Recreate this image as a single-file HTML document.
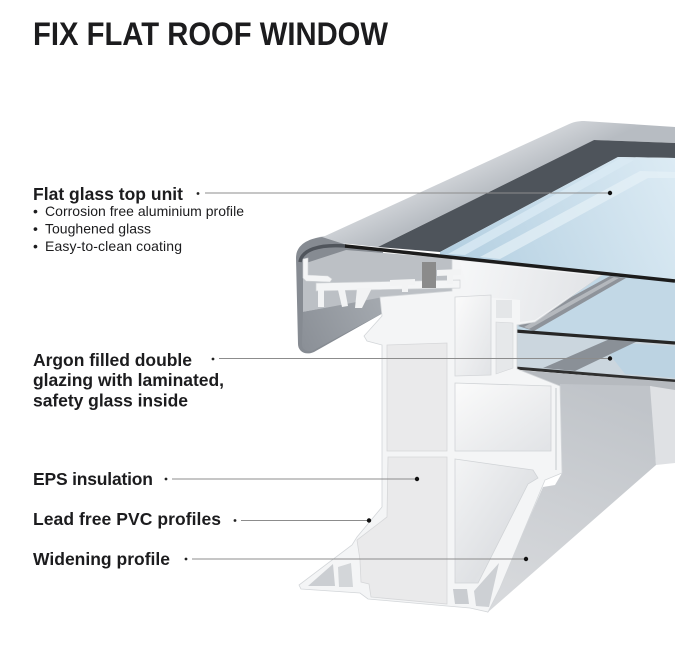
<!DOCTYPE html>
<html><head><meta charset="utf-8"><style>
html,body{margin:0;padding:0;background:#fff;}
svg{display:block;}
text{font-family:"Liberation Sans",Arial,sans-serif;fill:#1c1c1e;}
</style></head><body>
<svg width="675" height="650" viewBox="0 0 675 650" xmlns="http://www.w3.org/2000/svg">
<defs>
<linearGradient id="gCap" gradientUnits="userSpaceOnUse" x1="440" y1="172" x2="456" y2="208">
<stop offset="0" stop-color="#d6d9dd"/><stop offset="1" stop-color="#b7bcc2"/></linearGradient>
<linearGradient id="gGlass" gradientUnits="userSpaceOnUse" x1="440" y1="265" x2="675" y2="160">
<stop offset="0" stop-color="#b2cee0"/><stop offset="1" stop-color="#dcebf4"/></linearGradient>
<linearGradient id="gCh" x1="0" y1="0" x2="1" y2="1">
<stop offset="0" stop-color="#fbfbfb"/><stop offset="1" stop-color="#e1e3e6"/></linearGradient>
<linearGradient id="gCh4" x1="0" y1="0" x2="1" y2="1">
<stop offset="0" stop-color="#f3f4f5"/><stop offset="0.6" stop-color="#dfe1e4"/><stop offset="1" stop-color="#eceef0"/></linearGradient>
<linearGradient id="gFace" gradientUnits="userSpaceOnUse" x1="600" y1="390" x2="520" y2="600">
<stop offset="0" stop-color="#c0c4c9"/><stop offset="1" stop-color="#d7d9dc"/></linearGradient>
<linearGradient id="gSkirt" gradientUnits="userSpaceOnUse" x1="300" y1="340" x2="380" y2="300">
<stop offset="0" stop-color="#8b9097"/><stop offset="1" stop-color="#a4a9af"/></linearGradient>
<linearGradient id="gWedge" gradientUnits="userSpaceOnUse" x1="460" y1="265" x2="590" y2="300">
<stop offset="0" stop-color="#f6f7f8"/><stop offset="1" stop-color="#e2e4e7"/></linearGradient>
</defs>

<!-- Title -->
<text x="33" y="45" font-size="32" font-weight="bold" textLength="355" lengthAdjust="spacingAndGlyphs">FIX FLAT ROOF WINDOW</text>

<!-- Cap top band -->
<path d="M298,258 C298,245 310,238 325,236 L567,125 C573,122 578,121 584,121 L675,127 L675,143 L594,140 L378,247 L350,244 C335,243 320,246 310,252 Z" fill="url(#gCap)"/>
<!-- Dark inner band -->
<path d="M378,247 L594,140 L675,143 L675,158 L618,157 L440,252 Z" fill="#4e545b"/>
<!-- Glass -->
<path d="M440,252 L618,157 L675,158 L675,281 L440,258 Z" fill="url(#gGlass)"/>
<path d="M448,254 L621,158 L634,160 L465,255 Z" fill="#d9eaf4" opacity="0.8"/>
<path d="M480,257 L640,171 L675,172 L675,178 L648,178 L500,259 Z" fill="#e6f1f7" opacity="0.7"/>

<!-- Blue region under top glass (right) -->
<path d="M535,322 L602,274 L675,281 L675,343 L517,331 L517,325 Z" fill="#c2d8e6"/>
<!-- Gray rail -->
<path d="M518,326 L610,276 L626,278 L534,331 Z" fill="#8e939a"/>
<path d="M524,327 L614,277 L619,278 L529,329 Z" fill="#b4b8bd"/>
<!-- Double glazing -->
<path d="M517,332 L675,343 L675,381 L517,368 Z" fill="#cbd6de"/>
<path d="M600,342 L675,346 L675,378 L625,374 Z" fill="#bcd3e2"/>
<path d="M543,368 L612,338 L640,340 L575,371 Z" fill="#8a9097"/>
<path d="M515,331 L675,343" stroke="#262626" stroke-width="3.2" fill="none"/>
<path d="M515,368 L675,381" stroke="#2f2f2f" stroke-width="3" fill="none"/>
<path d="M516,331 L516,368" stroke="#3a3a3a" stroke-width="2.2"/>
<!-- under double glazing strip -->
<path d="M517,370 L675,382 L675,392 L562,387 L517,378 Z" fill="#b6babf"/>
<!-- Widening gray face -->
<path d="M560,384 L652,386 L656,465 L487,613 L498,590 L543,487 L555,485 L562,473 Z" fill="url(#gFace)"/>
<path d="M650,386 L675,390 L675,463 L656,465 Z" fill="#dfe1e4"/>

<!-- Cap side -->
<path d="M296,258 C296,246 306,239 322,237 L347,245 L383,252 L383,313 L314,352 C305,356 298,351 298,344 Z" fill="#868b92"/>
<path d="M303,264 L346,250 L460,259 L460,292 L383,298 L303,312 Z" fill="#bcc0c5"/>
<path d="M303,312 L383,297 L383,313 L312,351 C306,352 302,349 302,344 Z" fill="url(#gSkirt)"/>
<path d="M300,262 C302,250 318,244 346,246" stroke="#50555c" stroke-width="3.5" fill="none"/>

<!-- PVC body -->
<path d="M380,297 L452,291 L452,259 L602,275 L535,322 L517,325 L517,369 L560,386 L562,473 L545,480 L500,588 L488,612 L470,608 L447,606 L368,599 L360,593 L301,589 L299,585 L352,545 L357,537 L382,507 L382,345 L367,341 L364,336 L382,316 Z" fill="#f4f5f6" stroke="#d3d6d9" stroke-width="0.8"/>
<path d="M460,262 L600,276 L535,320 L520,322 L520,300 L470,296 Z" fill="url(#gWedge)"/>

<!-- Sash profile shapes in cap -->
<path d="M316,283 L460,280 L460,288 L316,291 Z" fill="#f4f5f6" stroke="#cfd2d5" stroke-width="0.7"/>
<path d="M303,259 L308,258 L308,275 L328,276 L332,279 L330,282 L306,281 L303,278 Z" fill="#f4f5f6" stroke="#cfd2d5" stroke-width="0.6"/>
<path d="M318,290 L324,290 L324,307 L318,307 Z" fill="#f2f3f4"/>
<path d="M338,290 L345,290 L348,306 L342,307 Z" fill="#f2f3f4"/>
<path d="M357,288 L372,288 L362,308 L355,308 Z" fill="#f2f3f4"/>
<path d="M390,280 L415,279 L415,285 L390,286 Z" fill="#f2f3f4"/>
<path d="M402,285 L408,285 L408,292 L402,292 Z" fill="#f2f3f4"/>
<path d="M437,270 L461,269 L461,275 L437,276 Z" fill="#f2f3f4"/>
<path d="M447,275 L453,275 L453,284 L447,284 Z" fill="#f2f3f4"/>
<rect x="422" y="262" width="14" height="26" fill="#8b8b8b"/>

<!-- chambers -->
<path d="M455,297 L491,295 L491,375 L455,376 Z" fill="url(#gCh)" stroke="#d3d5d8" stroke-width="0.8"/>
<path d="M496,300 L512,300 L512,318 L496,318 Z" fill="#e4e6e8"/>
<path d="M496,322 L513,323 L513,368 L496,374 Z" fill="#e6e8ea" stroke="#d3d5d8" stroke-width="0.6"/>
<path d="M455,383 L551,386 L551,451 L455,451 Z" fill="url(#gCh)" stroke="#d0d3d6" stroke-width="0.8"/>
<path d="M556,388 L556,470" stroke="#ccd0d3" stroke-width="1.2"/>
<path d="M455,459 L533,470 L538,478 L528,484 L478,583 L455,583 Z" fill="url(#gCh4)" stroke="#d0d3d6" stroke-width="0.8"/>
<!-- EPS -->
<path d="M387,345 L447,343 L447,451 L387,451 Z" fill="#eaeaeb" stroke="#d6d7d9" stroke-width="0.8"/>
<path d="M388,457 L447,457 L447,604 L371,597 L369,584 L361,582 L360,560 L357,540 L387,517 Z" fill="#eaeaeb" stroke="#d6d7d9" stroke-width="0.8"/>
<!-- Foot -->
<path d="M308,586 L333,564 L335,586 Z" fill="#cbced2"/>
<path d="M338,567 L351,563 L353,587 L339,587 Z" fill="#d3d6d9"/>
<path d="M453,589 L467,589 L469,604 L455,604 Z" fill="#c9ccd0"/>
<path d="M474,591 L499,563 L489,607 L476,606 Z" fill="#cdd0d4"/>

<!-- Top glass edge -->
<path d="M345,246 L675,281" stroke="#1c1c1c" stroke-width="3.5" fill="none"/>

<!-- Labels -->
<text x="33" y="200" font-size="17.5" font-weight="bold" textLength="150" lengthAdjust="spacing">Flat glass top unit</text>
<text x="33" y="216" font-size="14">•</text>
<text x="45" y="216" font-size="14" textLength="199" lengthAdjust="spacing">Corrosion free aluminium profile</text>
<text x="33" y="233.5" font-size="14">•</text>
<text x="45" y="233.5" font-size="14" textLength="106" lengthAdjust="spacing">Toughened glass</text>
<text x="33" y="251" font-size="14">•</text>
<text x="45" y="251" font-size="14" textLength="137" lengthAdjust="spacing">Easy-to-clean coating</text>

<text x="33" y="366" font-size="17.5" font-weight="bold" textLength="159" lengthAdjust="spacing">Argon filled double</text>
<text x="33" y="386" font-size="17.5" font-weight="bold" textLength="191" lengthAdjust="spacing">glazing with laminated,</text>
<text x="33" y="406.5" font-size="17.5" font-weight="bold" textLength="155" lengthAdjust="spacing">safety glass inside</text>

<text x="33" y="485" font-size="17.5" font-weight="bold" textLength="120" lengthAdjust="spacing">EPS insulation</text>
<text x="33" y="525" font-size="17.5" font-weight="bold" textLength="188" lengthAdjust="spacing">Lead free PVC profiles</text>
<text x="33" y="565" font-size="17.5" font-weight="bold" textLength="137" lengthAdjust="spacing">Widening profile</text>

<!-- Connectors -->
<g stroke="#8c8c8c" stroke-width="1.1" fill="none">
<path d="M205,193 L610,193"/>
<path d="M219,358.5 L610,358.5"/>
<path d="M172,479 L417,479"/>
<path d="M241,520.5 L369,520.5"/>
<path d="M192,559 L526,559"/>
</g>
<g fill="#222">
<circle cx="198" cy="193.5" r="1.4"/>
<circle cx="213" cy="359" r="1.4"/>
<circle cx="166" cy="479" r="1.4"/>
<circle cx="235" cy="520.5" r="1.4"/>
<circle cx="186" cy="559" r="1.4"/>
</g>
<g fill="#111">
<circle cx="610" cy="193" r="2.2"/>
<circle cx="610" cy="358.5" r="2.2"/>
<circle cx="417" cy="479" r="2.2"/>
<circle cx="369" cy="520.5" r="2.2"/>
<circle cx="526" cy="559" r="2.2"/>
</g>
</svg>
</body></html>
